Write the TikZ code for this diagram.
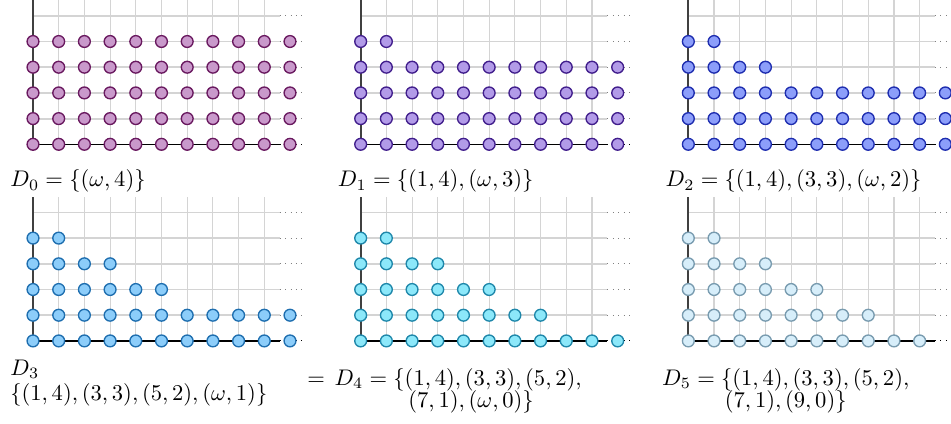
\documentclass[tikz,border=0pt]{standalone}
\usepackage{amsmath,amssymb}
\usepackage{tikz}
\usetikzlibrary{positioning}
\definecolor{dzero}{RGB}{201,153,203}
\definecolor{dzeroline}{RGB}{105,25,95}
\definecolor{done}{RGB}{178,155,232}
\definecolor{doneline}{RGB}{65,30,140}
\definecolor{dtwo}{RGB}{140,158,250}
\definecolor{dtwoline}{RGB}{30,45,175}
\definecolor{dthree}{RGB}{140,205,250}
\definecolor{dthreeline}{RGB}{30,110,175}
\definecolor{dfour}{RGB}{140,232,250}
\definecolor{dfourline}{RGB}{30,135,170}
\definecolor{dfive}{RGB}{215,238,250}
\definecolor{dfiveline}{RGB}{120,155,175}
\definecolor{gridgray}{RGB}{212,212,212}

\begin{document}
\begin{tikzpicture}[x=0.4cm, y=0.4cm,
  gridcol/.style={gridgray, line width=0.5pt},
  gridrow/.style={gridgray, line width=0.8pt},
  yaxis/.style={black!75, line width=0.9pt},
  xaxis/.style={black, line width=0.7pt},
  lbl/.style={anchor=base west, inner sep=0pt},
  lblc/.style={anchor=base, inner sep=0pt, align=center}]
  \useasboundingbox (-1.284,-10.88) rectangle (35.72,5.615);
  % one panel per set D_k
  \foreach \k/\px/\py/\col in {0/0/0/dzero, 1/12.75/0/done, 2/25.5/0/dtwo,
      3/0/-7.65/dthree, 4/12.75/-7.65/dfour, 5/25.5/-7.65/dfive} {
    \begin{scope}[shift={(\px,\py)}]
      \foreach \i in {1,...,9} \draw[gridcol] (\i,0) -- (\i,5.6);
      \foreach \j in {1,...,5} {
        \draw[gridrow] (0,\j) -- (9.6,\j);
        \draw[gridrow, line width=0.4pt, gray, dotted] (9.6,\j) -- (10.6,\j);
      }
      \draw[yaxis] (0,0) -- (0,5.6);
      \draw[xaxis] (0,0) -- (9.6,0);
      \draw[black, dotted] (9.6,0) -- (10.6,0);
      % points of the set
      \foreach \r in {0,...,4} {
        \pgfmathtruncatemacro{\n}{\r >= 5-\k ? 9-2*\r : 10}
        \foreach \c in {0,...,\n}
          \filldraw[fill=\col, draw=\col line, line width=0.6pt] (\c,\r) circle (0.23);
      }
    \end{scope}
  }
  % labels (multi-line ones sit on their last line)
  \node[lbl] (lzero) at (-0.9,-1.66) {$D_0 = \{(\omega,4)\}$};
  \node[lbl] (lone) at (11.85,-1.66) {$D_1 = \{(1,4),(\omega,3)\}$};
  \node[lbl] (ltwo) at (24.6,-1.66) {$D_2 = \{(1,4),(3,3),(\omega,2)\}$};
  \node[lbl, align=left] (lthree) at (-0.9,-9.95)
    {$D_3$\\[-1pt]$\{(1,4),(3,3),(5,2),(\omega,1)\}$};
  \node[lbl] (leq) at (10.66,-9.39) {$=$};
  \node[lblc] (lfour) at (16.54,-10.26)
    {$D_4 = \{(1,4),(3,3),(5,2),$\\[-2pt]\hspace*{11.5pt}$(7,1),(\omega,0)\}$};
  \node[lblc] (lfive) at (29.29,-10.26)
    {$D_5 = \{(1,4),(3,3),(5,2),$\\[-2pt]$(7,1),(9,0)\}$};
\end{tikzpicture}
\end{document}
